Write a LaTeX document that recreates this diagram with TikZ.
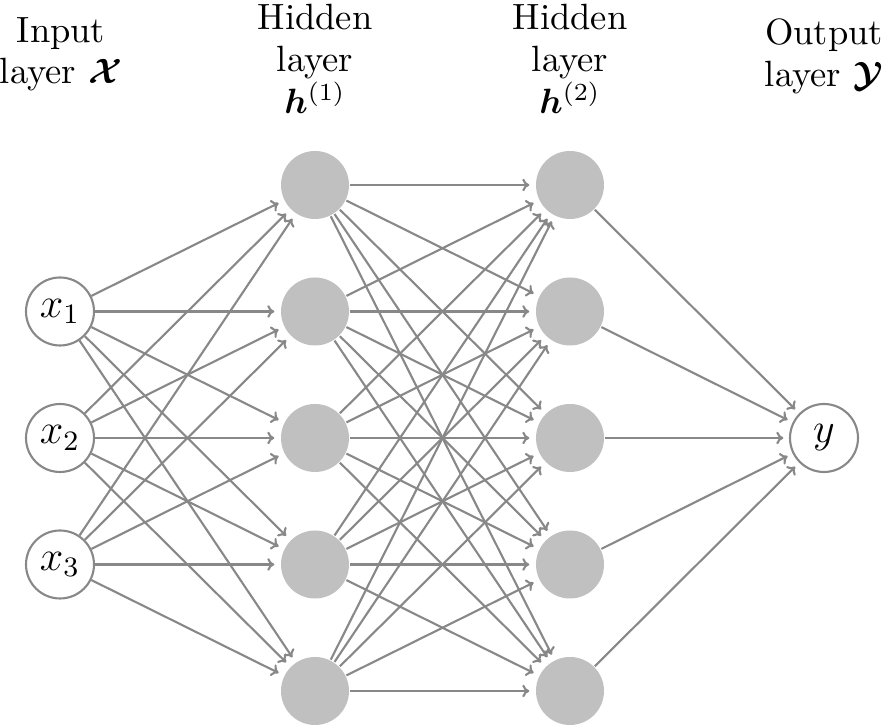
\documentclass[tikz,border=0pt]{standalone}
\usepackage{amsmath}
\usepackage{bm}
\usepackage{fontspec}
\usetikzlibrary{arrows.meta}
\definecolor{linegray}{RGB}{136,136,136}
\definecolor{nodegray}{RGB}{192,192,192}

\begin{document}
\begin{tikzpicture}[line width=0.6pt,>={To[length=2pt,width=3.6pt]}]
\tikzset{unit/.style={circle,minimum size=6.8mm,inner sep=0pt,font=\fontsize{11.5}{13}\selectfont},
  inp/.style={unit,draw=linegray,fill=white},
  hid/.style={unit,fill=nodegray},
  wt/.style={draw=linegray,->,shorten >=1.6pt},
  hdr/.style={align=center,anchor=north,inner sep=0pt,font=\fontsize{10.4}{11.9}\selectfont}}
\useasboundingbox (0,0) rectangle (8.86,7.28);
% ---------- layer headings ----------
\node[hdr] (tin)  at (0.61,7.12) {Input\\layer $\bm{\mathcal{X}}$};
\node[hdr] (tha)  at (3.15,7.25) {Hidden\\layer\\$\bm{h}^{(1)}$};
\node[hdr] (thb)  at (5.70,7.25) {Hidden\\layer\\$\bm{h}^{(2)}$};
\node[hdr] (tout) at (8.24,7.10) {Output\\layer $\bm{\mathcal{Y}}$};
% ---------- units ----------
\foreach \i in {1,2,3}{ \node[inp] (in\i) at (0.60,{2.90+(2-\i)*1.265}) {$x_{\i}$}; }
\foreach \i in {1,...,5}{
  \node[hid] (ha\i) at (3.15,{2.90+(3-\i)*1.265}) {};
  \node[hid] (hb\i) at (5.70,{2.90+(3-\i)*1.265}) {};
}
\node[inp] (out) at (8.24,2.90) {$y$};
% ---------- weights ----------
\foreach \i in {1,2,3}{ \foreach \j in {1,...,5}{ \draw[wt] (in\i) -- (ha\j); } }
\foreach \i in {1,...,5}{ \foreach \j in {1,...,5}{ \draw[wt] (ha\i) -- (hb\j); } }
\foreach \i in {1,...,5}{ \draw[wt] (hb\i) -- (out); }
\end{tikzpicture}
\end{document}
